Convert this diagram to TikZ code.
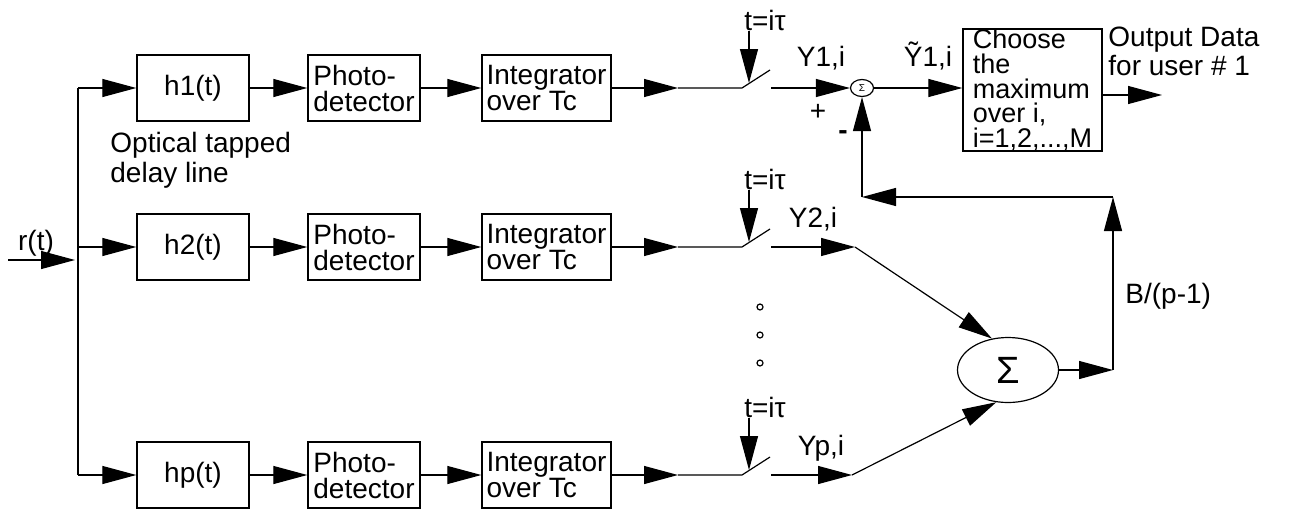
\documentclass[tikz,border=0pt]{standalone}
\usepackage{fontspec}
\setmainfont{Liberation Sans}
\usetikzlibrary{arrows.meta,shapes.geometric}
\begin{document}
\begin{tikzpicture}[x=0.5pt,y=-0.5pt,
  every node/.style={font=\fontsize{14pt}{13pt}\selectfont},
  ln/.style={line width=0.6pt},
  arr/.style={ln,-{Triangle[length=17pt,width=9pt]}},
  blk/.style={draw,line width=0.7pt,inner sep=0pt,minimum height=33pt,align=left},
  hbox/.style={blk,minimum width=56pt},
  pbox/.style={blk,minimum width=56pt},
  ibox/.style={blk,minimum width=64.5pt},
  lbl/.style={inner sep=0pt},
  dot/.style={ln},
]
\useasboundingbox (0,0) rectangle (1299,514);

% ---- input and bus
\node[lbl,anchor=base] (r) at (36,250) {r(t)};
\coordinate (in0) at (8,260);
\coordinate (in1) at (75,260);
\draw[arr] (in0) -- (in1);
\coordinate (bt) at (78,88);
\coordinate (bb) at (78,475);
\draw[ln] (bt) -- (bb);

% ---- row 1
\node[hbox] (h1) at (193,88) {h1(t)};
\node[pbox] (p1) at (364,88) {Photo-\\detector};
\node[ibox] (i1) at (546.5,88) {Integrator\\over Tc};
\draw[arr] (bt) -- (h1);
\draw[arr] (h1) -- (p1);
\draw[arr] (p1) -- (i1);
\node[lbl,anchor=north west,align=left,font=\fontsize{14pt}{15pt}\selectfont] (otd) at (110,132) {Optical tapped\\delay line};
\coordinate (a1) at (678,88);
\coordinate (b1) at (742,88);
\coordinate (c1) at (770,70);
\coordinate (d1) at (771,88);
\coordinate (k1) at (749,83);
\draw[arr] (i1) -- (a1);
\draw[ln] (a1) -- (b1) -- (c1);
\node[lbl,anchor=base] (t1) at (765,30) {t=iτ};
\draw[arr] (t1.south -| k1) -- (k1);
\node[lbl,anchor=base] (y1) at (821,66) {Y1,i};
\node[draw,ellipse,ln,minimum width=11.5pt,minimum height=8.5pt,inner sep=0pt,font=\fontsize{5pt}{5pt}\selectfont] (s1) at (862,88) {Σ};
\draw[arr] (d1) -- (s1);
\node[lbl] (plus) at (818,112) {+};
\node[lbl] (minus) at (843,135) {\textbf{-}};
\node[lbl,anchor=base] (yt1) at (928,66) {Ỹ1,i};
\node[blk,minimum width=69.5pt,minimum height=58pt,font=\fontsize{13.5pt}{12.4pt}\selectfont] (ch) at (1032.5,90) {Choose\\the\\maximum\\over i,\\i=1,2,...,M};
\draw[arr] (s1) -- (s1 -| ch.west);
\coordinate (o1) at (1162,95);
\draw[arr] (o1 -| ch.east) -- (o1);
\node[lbl,anchor=north west,align=left,font=\fontsize{14pt}{13pt}\selectfont] (out) at (1108,27) {Output Data\\for user \# 1};

% ---- row 2
\node[hbox] (h2) at (193,247) {h2(t)};
\node[pbox] (p2) at (364,247) {Photo-\\detector};
\node[ibox] (i2) at (546.5,247) {Integrator\\over Tc};
\draw[arr] (h2 -| bt) -- (h2);
\draw[arr] (h2) -- (p2);
\draw[arr] (p2) -- (i2);
\coordinate (a2) at (678,247);
\coordinate (b2) at (742,247);
\coordinate (c2) at (770,229);
\coordinate (d2) at (771,247);
\coordinate (k2) at (749,242);
\coordinate (e2) at (855,247);
\draw[arr] (i2) -- (a2);
\draw[ln] (a2) -- (b2) -- (c2);
\node[lbl,anchor=base] (t2) at (765,189) {t=iτ};
\draw[arr] (t2.south -| k2) -- (k2);
\node[lbl,anchor=base] (y2) at (813,227) {Y2,i};
\draw[arr] (d2) -- (e2);

% ---- row p
\node[hbox] (hp) at (193,475) {hp(t)};
\node[pbox] (pp) at (364,475) {Photo-\\detector};
\node[ibox] (ip) at (546.5,475) {Integrator\\over Tc};
\draw[arr] (bb) -- (hp);
\draw[arr] (hp) -- (pp);
\draw[arr] (pp) -- (ip);
\coordinate (ap) at (678,475);
\coordinate (bp) at (742,475);
\coordinate (cp) at (770,457);
\coordinate (dp) at (771,475);
\coordinate (kp) at (749,470);
\coordinate (ep) at (852,475);
\draw[arr] (ip) -- (ap);
\draw[ln] (ap) -- (bp) -- (cp);
\node[lbl,anchor=base] (tp) at (765,417) {t=iτ};
\draw[arr] (tp.south -| kp) -- (kp);
\node[lbl,anchor=base] (yp) at (821,455) {Yp,i};
\draw[arr] (dp) -- (ep);

% ---- dots
\foreach \yy in {307,335,363} \draw[dot] (760,\yy) circle[radius=3];

% ---- big sum and feedback
\node[draw,ellipse,ln,minimum width=50.5pt,minimum height=32.5pt,inner sep=0pt,font=\fontsize{19pt}{19pt}\selectfont] (S) at (1008,370) {Σ};
\draw[arr] (e2) -- (S.117);
\draw[arr] (ep) -- (S.250);
\coordinate (cr) at (1113,370);
\coordinate (ct) at (1113,197);
\draw[arr] (S) -- (cr);
\draw[arr] (cr) -- (ct);
\draw[arr] (ct) -- (ct -| s1.south);
\draw[arr] (ct -| s1.south) -- (s1.south);
\node[lbl,anchor=west] (bl) at (1125,296) {B/(p-1)};
\end{tikzpicture}
\end{document}
